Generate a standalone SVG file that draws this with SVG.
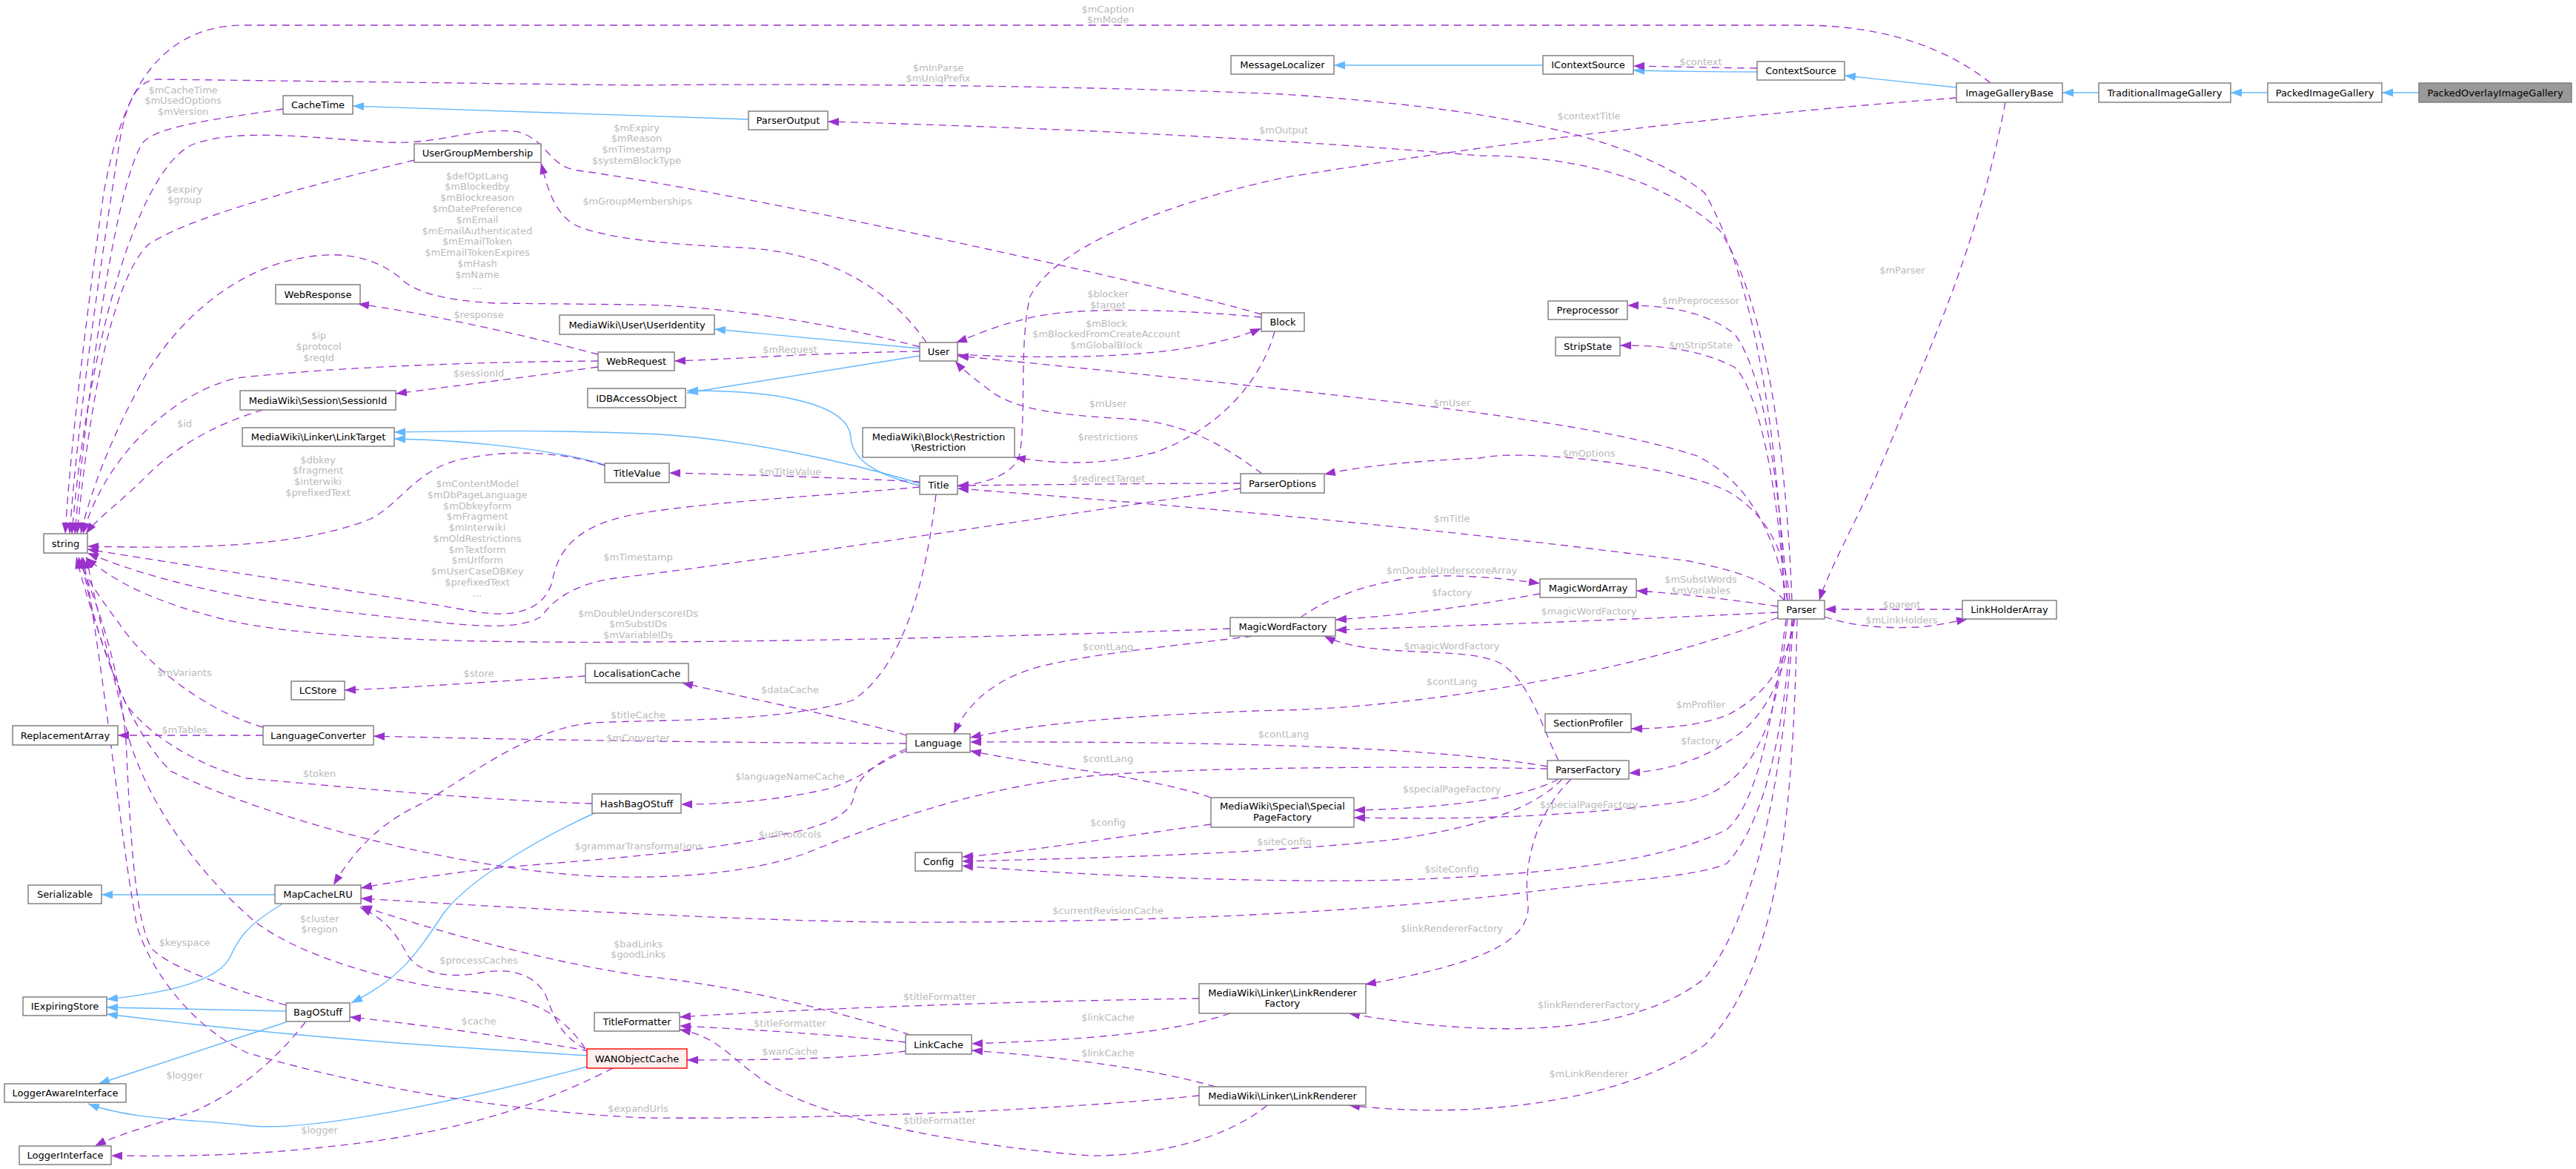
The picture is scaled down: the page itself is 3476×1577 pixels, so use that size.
<svg xmlns="http://www.w3.org/2000/svg" width="3476" height="1577" viewBox="0 0 3476 1577">
<style>
.nd rect{fill:#fff;stroke:#7a7a7a;stroke-width:1.4}
.nd text{font-family:"DejaVu Sans",sans-serif;font-size:13px;fill:#000;text-anchor:middle}
.u{fill:none;stroke:#9A32CD;stroke-width:1.3;stroke-dasharray:10,7;marker-end:url(#ap)}
.i{fill:none;stroke:#63B8FF;stroke-width:1.4;marker-end:url(#ab)}
.lbl{font-family:"DejaVu Sans",sans-serif;font-size:13px;fill:#bababa;text-anchor:middle}
</style>
<defs>
<marker id="ap" markerUnits="userSpaceOnUse" markerWidth="16" markerHeight="12" refX="15" refY="5.5" orient="auto"><path d="M0,0 L15,5.5 L0,11 z" fill="#9A32CD"/></marker>
<marker id="ab" markerUnits="userSpaceOnUse" markerWidth="16" markerHeight="12" refX="15" refY="5.5" orient="auto"><path d="M0,0 L15,5.5 L0,11 z" fill="#63B8FF"/></marker>
</defs>
<rect width="3476" height="1577" fill="#fff"/>
<g id="edges">
<path class="i" d="M3264,125 L3214,125"/>
<path class="i" d="M3060,125 L3010,125"/>
<path class="i" d="M2832,125 L2783,125"/>
<path class="i" d="M2640,118 L2489,102"/>
<path class="i" d="M2371,97 C2300,97 2260,96 2204,95"/>
<path class="u" d="M2371,92 C2300,91 2260,90 2204,89"/>
<path class="i" d="M2082,88 L1800,88"/>
<path class="i" d="M1010,161 L476,143"/>
<path class="i" d="M1241,470 L964,444"/>
<path class="i" d="M1241,480 L927,530"/>
<path class="i" d="M1241,655 C1180,640 1150,620 1148,590 C1145,545 1050,526 927,527"/>
<path class="i" d="M816,627 C760,610 650,594 532,592"/>
<path class="i" d="M1241,652 C1150,625 1000,590 870,585 C750,580 650,581 532,583"/>
<path class="i" d="M371,1207 L137,1207"/>
<path class="i" d="M380,1220 C330,1250 320,1270 311,1290 C295,1325 220,1340 144,1348"/>
<path class="i" d="M386,1364 L144,1359"/>
<path class="i" d="M792,1424 C600,1412 400,1400 144,1368"/>
<path class="i" d="M802,1097 C740,1125 640,1180 600,1230 C560,1290 540,1320 474,1353"/>
<path class="i" d="M386,1379 L133,1462"/>
<path class="i" d="M792,1439 C650,1478 420,1530 330,1518 C270,1510 180,1512 119,1489"/>

<path class="u" d="M2686,112 C2640,75 2560,34 2430,34 L330,34 C200,34 160,150 140,260 C120,400 95,600 88,720"/>
<path class="u" d="M2408,810 C2400,600 2370,380 2300,260 C2200,180 2000,145 1730,127 C1400,113 1000,113 860,115 L215,107 C185,107 170,135 160,200 C140,330 105,560 94,720"/>
<path class="u" d="M382,147 C300,160 220,168 195,190 C160,230 120,500 101,720"/>
<path class="u" d="M559,216 C420,250 260,290 200,330 C150,380 120,550 104,720"/>
<path class="u" d="M1702,424 C1550,380 1000,260 780,230 C740,225 740,190 700,178 C640,170 600,195 520,192 C420,186 320,172 260,195 C190,225 120,450 97,720"/>
<path class="u" d="M1241,468 C1100,430 950,412 860,411 L666,409 C600,405 560,395 540,375 C510,350 470,340 427,345 C330,355 250,420 200,500 C160,570 125,650 109,720"/>
<path class="u" d="M807,487 C650,488 450,495 320,510 C230,530 140,620 112,720"/>
<path class="u" d="M355,553 C280,575 230,610 200,640 C160,680 130,700 116,720"/>
<path class="u" d="M807,495 C700,510 620,520 534,531"/>
<path class="u" d="M807,478 C700,450 560,420 483,410"/>
<path class="u" d="M1241,474 C1100,476 1000,484 910,487"/>
<path class="u" d="M1250,462 C1200,390 1120,340 1000,334 C900,330 800,320 770,300 C745,280 738,250 730,220"/>
<path class="u" d="M1702,428 C1600,418 1450,412 1385,430 C1340,440 1310,455 1290,462"/>
<path class="u" d="M1292,478 C1400,484 1550,484 1640,462 C1670,455 1690,448 1702,443"/>
<path class="u" d="M1703,639 C1650,600 1600,570 1520,565 C1420,560 1370,550 1340,530 C1320,515 1300,500 1289,487"/>
<path class="u" d="M2412,810 C2395,720 2360,650 2290,615 C2150,570 1900,540 1292,480"/>
<path class="u" d="M1720,447 C1700,520 1640,580 1560,610 C1480,630 1420,625 1369,617"/>
<path class="u" d="M2640,132 C2400,150 2100,180 1730,240 C1550,280 1420,340 1390,400 C1375,460 1385,560 1376,612 C1370,640 1330,652 1292,656"/>
<path class="u" d="M1241,650 C1150,645 1000,640 903,638"/>
<path class="u" d="M816,628 C760,610 690,605 620,620 C560,635 540,680 500,700 C400,740 250,740 118,737"/>
<path class="u" d="M1241,657 C1100,670 900,680 830,700 C760,720 750,760 745,785 C735,820 700,835 640,825 C500,800 300,770 118,741"/>
<path class="u" d="M1674,659 C1400,700 1000,760 830,780 C760,790 740,820 730,832 C700,850 640,845 580,838 C400,820 250,800 118,746"/>
<path class="u" d="M1660,848 C1400,858 1100,865 870,866 C600,868 400,860 300,835 C220,815 160,790 116,752"/>
<path class="u" d="M1674,652 C1550,652 1400,654 1292,655"/>
<path class="u" d="M2408,810 C2380,780 2340,770 2280,757 C2000,720 1700,690 1292,659"/>
<path class="u" d="M2415,810 C2410,740 2380,690 2330,662 C2250,625 2050,605 1997,618 C1900,622 1830,630 1787,640"/>
<path class="u" d="M2418,810 C2410,600 2380,400 2320,310 C2230,230 2100,210 1997,210 C1700,185 1400,172 1117,164"/>
<path class="u" d="M2412,810 C2400,650 2380,500 2340,450 C2300,420 2250,412 2196,412"/>
<path class="u" d="M2408,810 C2400,650 2370,520 2340,495 C2290,470 2240,466 2186,466"/>
<path class="u" d="M2706,138 C2670,330 2600,480 2566,560 C2520,680 2470,760 2455,810"/>
<path class="u" d="M2648,822 L2462,822"/>
<path class="u" d="M2462,832 C2500,845 2540,848 2590,846 C2620,843 2640,838 2655,835"/>
<path class="u" d="M2399,818 C2330,808 2260,800 2208,797"/>
<path class="u" d="M1755,833 C1800,800 1880,775 1960,777 C2010,778 2050,783 2078,787"/>
<path class="u" d="M2078,801 C2000,815 1900,830 1802,836"/>
<path class="u" d="M2399,826 C2200,836 2000,843 1802,850"/>
<path class="u" d="M2103,1026 C2080,980 2065,920 2025,895 C1980,870 1850,890 1787,858"/>
<path class="u" d="M1690,858 C1600,870 1480,880 1400,900 C1330,920 1300,960 1287,990"/>
<path class="u" d="M2399,833 C2200,910 1900,955 1730,958 C1550,963 1400,975 1309,995"/>
<path class="u" d="M2088,1034 C1950,1010 1700,1000 1309,1001"/>
<path class="u" d="M1634,1076 C1560,1050 1420,1035 1309,1013"/>
<path class="u" d="M1223,1003 C1000,1002 700,998 504,993"/>
<path class="u" d="M1223,992 C1150,970 1000,940 920,921"/>
<path class="u" d="M790,912 C650,920 550,928 465,931"/>
<path class="u" d="M355,992 L159,992"/>
<path class="u" d="M355,981 C280,960 200,900 160,840 C130,800 110,770 106,752"/>
<path class="u" d="M1263,667 C1250,780 1220,900 1150,945 C1050,975 900,970 800,975 C700,985 620,1060 555,1091 C500,1120 470,1160 450,1194"/>
<path class="u" d="M1225,1012 C1180,1030 1150,1060 1100,1068 C1040,1080 980,1085 919,1085"/>
<path class="u" d="M1223,1010 C1180,1030 1155,1050 1152,1075 C1148,1100 1110,1115 1060,1125 C950,1150 800,1160 680,1170 C600,1178 530,1190 487,1198"/>
<path class="u" d="M2088,1037 C1900,1033 1600,1035 1470,1047 C1300,1065 1180,1115 1082,1153 C1000,1180 900,1186 800,1182 C600,1170 350,1100 230,1040 C170,980 125,850 110,752"/>
<path class="u" d="M2418,835 C2410,950 2390,1100 2330,1165 C2280,1185 2200,1185 2050,1205 C1800,1235 1500,1245 1200,1244 C1000,1242 700,1225 487,1212"/>
<path class="u" d="M790,1415 C750,1395 745,1360 735,1340 C720,1315 690,1305 650,1312 C600,1322 560,1310 548,1285 C535,1260 520,1240 486,1224"/>
<path class="u" d="M1228,1396 C1150,1370 1000,1330 870,1317 C750,1300 600,1260 487,1222"/>
<path class="u" d="M790,1415 C760,1370 720,1345 640,1338 C540,1330 400,1290 340,1240 C260,1170 200,1080 175,1000 C150,900 125,800 117,752"/>
<path class="u" d="M386,1356 C300,1330 230,1305 205,1280 C180,1240 175,1100 170,1000 C160,880 120,790 106,752"/>
<path class="u" d="M799,1084 C650,1080 450,1060 333,1050 C260,1030 200,990 170,950 C140,880 115,800 103,752"/>
<path class="u" d="M1618,1478 C1400,1500 1100,1510 870,1508 C700,1500 500,1470 333,1420 C250,1380 200,1300 185,1250 C165,1150 140,900 112,752"/>
<path class="u" d="M795,1418 C700,1400 550,1380 472,1372"/>
<path class="u" d="M412,1379 C380,1420 330,1470 260,1500 C200,1520 160,1530 128,1546"/>
<path class="u" d="M827,1441 C750,1480 650,1520 500,1540 C350,1560 250,1560 150,1559"/>
<path class="u" d="M1618,1347 C1400,1350 1100,1360 917,1372"/>
<path class="u" d="M1660,1367 C1580,1395 1450,1403 1311,1408"/>
<path class="u" d="M1222,1406 C1120,1395 1000,1388 917,1384"/>
<path class="u" d="M1222,1418 C1150,1428 1050,1430 927,1430"/>
<path class="u" d="M1640,1466 C1550,1440 1420,1425 1311,1417"/>
<path class="u" d="M1710,1491 C1650,1540 1550,1560 1470,1559 C1350,1550 1150,1520 1060,1475 C990,1440 980,1400 917,1389"/>
<path class="u" d="M1634,1112 C1500,1130 1380,1150 1298,1156"/>
<path class="u" d="M2108,1051 C2070,1090 2000,1115 1886,1132 C1700,1153 1450,1158 1298,1162"/>
<path class="u" d="M2410,835 C2395,950 2375,1080 2330,1119 C2250,1160 2100,1180 1886,1187 C1700,1192 1450,1180 1298,1168"/>
<path class="u" d="M2103,1051 C2060,1075 1960,1090 1827,1093"/>
<path class="u" d="M2412,835 C2400,950 2380,1060 2275,1081 C2100,1105 1950,1105 1827,1103"/>
<path class="u" d="M2120,1051 C2070,1100 2055,1170 2062,1220 C2065,1270 2000,1300 1842,1328"/>
<path class="u" d="M2420,835 C2410,1000 2380,1220 2300,1320 C2200,1400 2000,1400 1820,1367"/>
<path class="u" d="M2425,835 C2420,1050 2410,1300 2300,1410 C2180,1490 1980,1510 1820,1491"/>
<path class="u" d="M2420,835 C2410,900 2390,960 2340,995 C2290,1030 2240,1040 2198,1043"/>
<path class="u" d="M2422,835 C2410,900 2380,940 2330,965 C2290,980 2240,983 2201,983"/>
</g>
<g id="labels">
<text class="lbl" x="1495" y="16.5"><tspan x="1495">$mCaption</tspan><tspan x="1495" dy="14.7">$mMode</tspan></text>
<text class="lbl" x="1266" y="95.5"><tspan x="1266">$mInParse</tspan><tspan x="1266" dy="14.7">$mUniqPrefix</tspan></text>
<text class="lbl" x="247" y="125.5"><tspan x="247">$mCacheTime</tspan><tspan x="247" dy="14.7">$mUsedOptions</tspan><tspan x="247" dy="14.7">$mVersion</tspan></text>
<text class="lbl" x="249" y="259.5"><tspan x="249">$expiry</tspan><tspan x="249" dy="14.7">$group</tspan></text>
<text class="lbl" x="859" y="176.5"><tspan x="859">$mExpiry</tspan><tspan x="859" dy="14.7">$mReason</tspan><tspan x="859" dy="14.7">$mTimestamp</tspan><tspan x="859" dy="14.7">$systemBlockType</tspan></text>
<text class="lbl" x="860" y="275.5">$mGroupMemberships</text>
<text class="lbl" x="644" y="241.5"><tspan x="644">$defOptLang</tspan><tspan x="644" dy="14.8">$mBlockedby</tspan><tspan x="644" dy="14.8">$mBlockreason</tspan><tspan x="644" dy="14.8">$mDatePreference</tspan><tspan x="644" dy="14.8">$mEmail</tspan><tspan x="644" dy="14.8">$mEmailAuthenticated</tspan><tspan x="644" dy="14.8">$mEmailToken</tspan><tspan x="644" dy="14.8">$mEmailTokenExpires</tspan><tspan x="644" dy="14.8">$mHash</tspan><tspan x="644" dy="14.8">$mName</tspan><tspan x="644" dy="14.8">...</tspan></text>
<text class="lbl" x="646" y="428.5">$response</text>
<text class="lbl" x="430" y="456.5"><tspan x="430">$ip</tspan><tspan x="430" dy="15">$protocol</tspan><tspan x="430" dy="15">$reqId</tspan></text>
<text class="lbl" x="646" y="507.5">$sessionId</text>
<text class="lbl" x="1066" y="475.5">$mRequest</text>
<text class="lbl" x="1495" y="400.5"><tspan x="1495">$blocker</tspan><tspan x="1495" dy="15">$target</tspan></text>
<text class="lbl" x="1493" y="440.5"><tspan x="1493">$mBlock</tspan><tspan x="1493" dy="14.7">$mBlockedFromCreateAccount</tspan><tspan x="1493" dy="14.7">$mGlobalBlock</tspan></text>
<text class="lbl" x="2295" y="87.5">$context</text>
<text class="lbl" x="2144" y="160.5">$contextTitle</text>
<text class="lbl" x="1732" y="179.5">$mOutput</text>
<text class="lbl" x="2295" y="409.5">$mPreprocessor</text>
<text class="lbl" x="2295" y="469.5">$mStripState</text>
<text class="lbl" x="2567" y="368.5">$mParser</text>
<text class="lbl" x="249" y="575.5">$id</text>
<text class="lbl" x="429" y="624.5"><tspan x="429">$dbkey</tspan><tspan x="429" dy="14.7">$fragment</tspan><tspan x="429" dy="14.7">$interwiki</tspan><tspan x="429" dy="14.7">$prefixedText</tspan></text>
<text class="lbl" x="644" y="657"><tspan x="644">$mContentModel</tspan><tspan x="644" dy="14.75">$mDbPageLanguage</tspan><tspan x="644" dy="14.75">$mDbkeyform</tspan><tspan x="644" dy="14.75">$mFragment</tspan><tspan x="644" dy="14.75">$mInterwiki</tspan><tspan x="644" dy="14.75">$mOldRestrictions</tspan><tspan x="644" dy="14.75">$mTextform</tspan><tspan x="644" dy="14.75">$mUrlform</tspan><tspan x="644" dy="14.75">$mUserCaseDBKey</tspan><tspan x="644" dy="14.75">$prefixedText</tspan><tspan x="644" dy="14.75">...</tspan></text>
<text class="lbl" x="861" y="755.5">$mTimestamp</text>
<text class="lbl" x="861" y="831.5"><tspan x="861">$mDoubleUnderscoreIDs</tspan><tspan x="861" dy="14.7">$mSubstIDs</tspan><tspan x="861" dy="14.7">$mVariableIDs</tspan></text>
<text class="lbl" x="1495" y="548.5">$mUser</text>
<text class="lbl" x="1495" y="593.5">$restrictions</text>
<text class="lbl" x="1496" y="649.5">$redirectTarget</text>
<text class="lbl" x="1066" y="640.5">$mTitleValue</text>
<text class="lbl" x="1959" y="547.5">$mUser</text>
<text class="lbl" x="2144" y="615.5">$mOptions</text>
<text class="lbl" x="1959" y="703.5">$mTitle</text>
<text class="lbl" x="1959" y="773.5">$mDoubleUnderscoreArray</text>
<text class="lbl" x="1959" y="803.5">$factory</text>
<text class="lbl" x="2295" y="785.5"><tspan x="2295">$mSubstWords</tspan><tspan x="2295" dy="15">$mVariables</tspan></text>
<text class="lbl" x="2144" y="828.5">$magicWordFactory</text>
<text class="lbl" x="1959" y="875.5">$magicWordFactory</text>
<text class="lbl" x="1959" y="923.5">$contLang</text>
<text class="lbl" x="1495" y="876.5">$contLang</text>
<text class="lbl" x="1732" y="994.5">$contLang</text>
<text class="lbl" x="1495" y="1027.5">$contLang</text>
<text class="lbl" x="2566" y="819.5">$parent</text>
<text class="lbl" x="2566" y="840.5">$mLinkHolders</text>
<text class="lbl" x="2295" y="954.5">$mProfiler</text>
<text class="lbl" x="2295" y="1003.5">$factory</text>
<text class="lbl" x="646" y="912.5">$store</text>
<text class="lbl" x="249" y="911.5">$mVariants</text>
<text class="lbl" x="1066" y="934.5">$dataCache</text>
<text class="lbl" x="861" y="968.5">$titleCache</text>
<text class="lbl" x="861" y="999.5">$mConverter</text>
<text class="lbl" x="249" y="988.5">$mTables</text>
<text class="lbl" x="431" y="1047.5">$token</text>
<text class="lbl" x="1066" y="1051.5">$languageNameCache</text>
<text class="lbl" x="862" y="1145.5">$grammarTransformations</text>
<text class="lbl" x="1066" y="1129.5">$urlProtocols</text>
<text class="lbl" x="1495" y="1113.5">$config</text>
<text class="lbl" x="1733" y="1139.5">$siteConfig</text>
<text class="lbl" x="1959" y="1176.5">$siteConfig</text>
<text class="lbl" x="1959" y="1068.5">$specialPageFactory</text>
<text class="lbl" x="2144" y="1089.5">$specialPageFactory</text>
<text class="lbl" x="1495" y="1232.5">$currentRevisionCache</text>
<text class="lbl" x="431" y="1243.5"><tspan x="431">$cluster</tspan><tspan x="431" dy="14.5">$region</tspan></text>
<text class="lbl" x="249" y="1275.5">$keyspace</text>
<text class="lbl" x="861" y="1277.5"><tspan x="861">$badLinks</tspan><tspan x="861" dy="14.5">$goodLinks</tspan></text>
<text class="lbl" x="646" y="1299.5">$processCaches</text>
<text class="lbl" x="646" y="1381.5">$cache</text>
<text class="lbl" x="1959" y="1256.5">$linkRendererFactory</text>
<text class="lbl" x="2144" y="1359.5">$linkRendererFactory</text>
<text class="lbl" x="2144" y="1452.5">$mLinkRenderer</text>
<text class="lbl" x="1268" y="1348.5">$titleFormatter</text>
<text class="lbl" x="1495" y="1376.5">$linkCache</text>
<text class="lbl" x="1066" y="1384.5">$titleFormatter</text>
<text class="lbl" x="1066" y="1422.5">$wanCache</text>
<text class="lbl" x="1495" y="1424.5">$linkCache</text>
<text class="lbl" x="1268" y="1515.5">$titleFormatter</text>
<text class="lbl" x="249" y="1454.5">$logger</text>
<text class="lbl" x="431" y="1528.5">$logger</text>
<text class="lbl" x="861" y="1499.5">$expandUrls</text>
</g>
<g id="PackedOverlayImageGallery" class="nd"><rect x="3264" y="112" width="206" height="26" style="fill:#999999"/><text x="3367" y="129.5">PackedOverlayImageGallery</text></g>
<g id="PackedImageGallery" class="nd"><rect x="3060" y="112" width="154" height="26"/><text x="3137" y="129.5">PackedImageGallery</text></g>
<g id="TraditionalImageGallery" class="nd"><rect x="2832" y="112" width="178" height="26"/><text x="2921" y="129.5">TraditionalImageGallery</text></g>
<g id="ImageGalleryBase" class="nd"><rect x="2640" y="112" width="143" height="26"/><text x="2711.5" y="129.5">ImageGalleryBase</text></g>
<g id="ContextSource" class="nd"><rect x="2371" y="83" width="118" height="25"/><text x="2430" y="100">ContextSource</text></g>
<g id="IContextSource" class="nd"><rect x="2082" y="75" width="122" height="25"/><text x="2143" y="92">IContextSource</text></g>
<g id="MessageLocalizer" class="nd"><rect x="1661" y="75" width="139" height="25"/><text x="1730.5" y="92">MessageLocalizer</text></g>
<g id="ParserOutput" class="nd"><rect x="1010" y="150" width="107" height="25"/><text x="1063.5" y="167">ParserOutput</text></g>
<g id="CacheTime" class="nd"><rect x="382" y="129" width="94" height="25"/><text x="429" y="146">CacheTime</text></g>
<g id="UserGroupMembership" class="nd"><rect x="559" y="194" width="171" height="25"/><text x="644.5" y="211">UserGroupMembership</text></g>
<g id="Block" class="nd"><rect x="1702" y="422" width="58" height="25"/><text x="1731" y="439">Block</text></g>
<g id="User" class="nd"><rect x="1241" y="462" width="51" height="25"/><text x="1266.5" y="479">User</text></g>
<g id="UserIdentity" class="nd"><rect x="755" y="425" width="209" height="26"/><text x="859.5" y="442.5">MediaWiki\User\UserIdentity</text></g>
<g id="WebRequest" class="nd"><rect x="807" y="475" width="103" height="25"/><text x="858.5" y="492">WebRequest</text></g>
<g id="WebResponse" class="nd"><rect x="372" y="384" width="114" height="26"/><text x="429" y="401.5">WebResponse</text></g>
<g id="IDBAccessObject" class="nd"><rect x="793" y="524" width="132" height="26"/><text x="859" y="541.5">IDBAccessObject</text></g>
<g id="SessionId" class="nd"><rect x="324" y="527" width="210" height="26"/><text x="429" y="544.5">MediaWiki\Session\SessionId</text></g>
<g id="LinkTarget" class="nd"><rect x="327" y="577" width="205" height="25"/><text x="429.5" y="594">MediaWiki\Linker\LinkTarget</text></g>
<g id="TitleValue" class="nd"><rect x="816" y="625" width="87" height="26"/><text x="859.5" y="642.5">TitleValue</text></g>
<g id="string" class="nd"><rect x="59" y="720" width="59" height="26"/><text x="88.5" y="737.5">string</text></g>
<g id="Restriction" class="nd"><rect x="1164" y="577" width="205" height="40"/><text x="1266.5" y="593.5">MediaWiki\Block\Restriction</text><text x="1266.5" y="608">\Restriction</text></g>
<g id="Title" class="nd"><rect x="1241" y="642" width="51" height="25"/><text x="1266.5" y="659">Title</text></g>
<g id="ParserOptions" class="nd"><rect x="1674" y="639" width="113" height="26"/><text x="1730.5" y="656.5">ParserOptions</text></g>
<g id="Preprocessor" class="nd"><rect x="2089" y="406" width="107" height="25"/><text x="2142.5" y="423">Preprocessor</text></g>
<g id="StripState" class="nd"><rect x="2099" y="455" width="87" height="25"/><text x="2142.5" y="472">StripState</text></g>
<g id="MagicWordArray" class="nd"><rect x="2078" y="781" width="130" height="25"/><text x="2143" y="798">MagicWordArray</text></g>
<g id="Parser" class="nd"><rect x="2399" y="810" width="63" height="25"/><text x="2430.5" y="827">Parser</text></g>
<g id="LinkHolderArray" class="nd"><rect x="2648" y="810" width="127" height="25"/><text x="2711.5" y="827">LinkHolderArray</text></g>
<g id="MagicWordFactory" class="nd"><rect x="1660" y="833" width="142" height="25"/><text x="1731" y="850">MagicWordFactory</text></g>
<g id="LocalisationCache" class="nd"><rect x="790" y="895" width="139" height="26"/><text x="859.5" y="912.5">LocalisationCache</text></g>
<g id="LCStore" class="nd"><rect x="393" y="919" width="72" height="25"/><text x="429" y="936">LCStore</text></g>
<g id="ReplacementArray" class="nd"><rect x="17" y="979" width="142" height="26"/><text x="88" y="996.5">ReplacementArray</text></g>
<g id="LanguageConverter" class="nd"><rect x="355" y="979" width="149" height="26"/><text x="429.5" y="996.5">LanguageConverter</text></g>
<g id="Language" class="nd"><rect x="1223" y="990" width="86" height="25"/><text x="1266" y="1007">Language</text></g>
<g id="SectionProfiler" class="nd"><rect x="2085" y="963" width="116" height="25"/><text x="2143" y="980">SectionProfiler</text></g>
<g id="ParserFactory" class="nd"><rect x="2088" y="1026" width="110" height="25"/><text x="2143" y="1043">ParserFactory</text></g>
<g id="HashBagOStuff" class="nd"><rect x="799" y="1071" width="120" height="26"/><text x="859" y="1088.5">HashBagOStuff</text></g>
<g id="SpecialPageFactory" class="nd"><rect x="1634" y="1076" width="193" height="40"/><text x="1730.5" y="1091.5">MediaWiki\Special\Special</text><text x="1730.5" y="1107">PageFactory</text></g>
<g id="Config" class="nd"><rect x="1235" y="1150" width="63" height="25"/><text x="1266.5" y="1167">Config</text></g>
<g id="Serializable" class="nd"><rect x="38" y="1194" width="99" height="25"/><text x="87.5" y="1211">Serializable</text></g>
<g id="MapCacheLRU" class="nd"><rect x="371" y="1194" width="116" height="25"/><text x="429" y="1211">MapCacheLRU</text></g>
<g id="IExpiringStore" class="nd"><rect x="31" y="1345" width="113" height="25"/><text x="87.5" y="1362">IExpiringStore</text></g>
<g id="BagOStuff" class="nd"><rect x="386" y="1353" width="86" height="25"/><text x="429" y="1370">BagOStuff</text></g>
<g id="TitleFormatter" class="nd"><rect x="802" y="1366" width="115" height="25"/><text x="859.5" y="1383">TitleFormatter</text></g>
<g id="LinkRendererFactory" class="nd"><rect x="1618" y="1327" width="225" height="40"/><text x="1730.5" y="1343.5">MediaWiki\Linker\LinkRenderer</text><text x="1730.5" y="1357.5">Factory</text></g>
<g id="LinkCache" class="nd"><rect x="1222" y="1396" width="89" height="26"/><text x="1266.5" y="1413.5">LinkCache</text></g>
<g id="WANObjectCache" class="nd"><rect x="792" y="1415" width="135" height="26" style="fill:#FFF0F0;stroke:#FF0000"/><text x="859.5" y="1432.5">WANObjectCache</text></g>
<g id="LinkRenderer" class="nd"><rect x="1618" y="1466" width="225" height="25"/><text x="1730.5" y="1483">MediaWiki\Linker\LinkRenderer</text></g>
<g id="LoggerAwareInterface" class="nd"><rect x="6" y="1462" width="164" height="25"/><text x="88" y="1479">LoggerAwareInterface</text></g>
<g id="LoggerInterface" class="nd"><rect x="26" y="1546" width="124" height="25"/><text x="88" y="1563">LoggerInterface</text></g>
</svg>
